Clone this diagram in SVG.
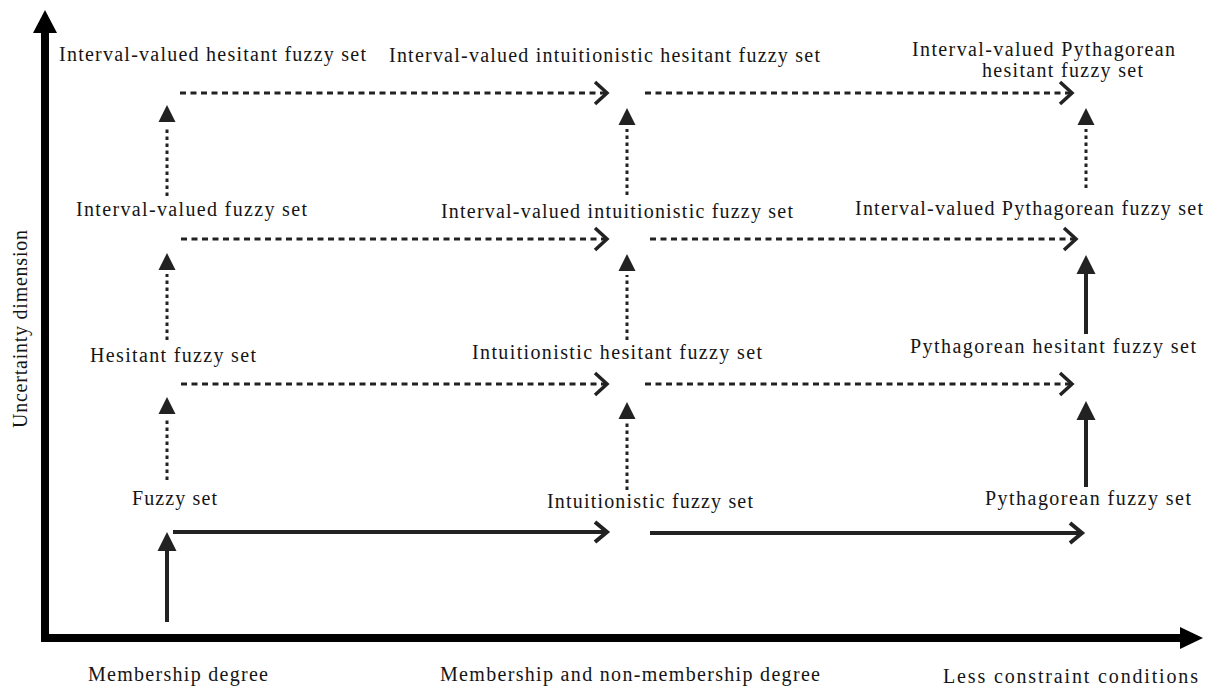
<svg xmlns="http://www.w3.org/2000/svg" width="1209" height="686" viewBox="0 0 1209 686" font-family="'Liberation Serif', 'DejaVu Serif', serif">
<style>
text{font-family:'Liberation Serif','DejaVu Serif',serif;font-size:20px;fill:#151515}
.solid{stroke:#222;stroke-width:4;fill:none}
.dash{stroke:#222;stroke-width:3;fill:none;stroke-dasharray:6 4.5}
.dot{stroke:#222;stroke-width:3;fill:none;stroke-dasharray:3.5 3.5}
.tri{fill:#222}
.chev{stroke:#222;stroke-width:3.5;fill:none;stroke-linejoin:miter}
.axis{stroke:#000;stroke-width:8;fill:none}
</style>
<defs>
<marker id="chev" markerUnits="userSpaceOnUse" viewBox="-14 -13 16 26" refX="0" refY="0" markerWidth="16" markerHeight="26" orient="auto" overflow="visible">
<path d="M-12,-11 L0,0 L-12,11" class="chev"/>
</marker>
<marker id="chevS" markerUnits="userSpaceOnUse" viewBox="-14 -13 16 26" refX="0" refY="0" markerWidth="16" markerHeight="26" orient="auto" overflow="visible">
<path d="M-12,-10 L0,0 L-12,10" stroke="#222" stroke-width="4" fill="none"/>
</marker>
<marker id="tri" markerUnits="userSpaceOnUse" viewBox="-5 -9 22 18" refX="-4" refY="0" markerWidth="22" markerHeight="18" orient="auto" overflow="visible">
<path d="M0,-8.5 L17,0 L0,8.5 z" class="tri"/>
</marker>
<marker id="triS" markerUnits="userSpaceOnUse" viewBox="-1 -10 21 20" refX="0" refY="0" markerWidth="21" markerHeight="20" orient="auto" overflow="visible">
<path d="M0,-9.5 L19,0 L0,9.5 z" class="tri"/>
</marker>
</defs>

<g id="axes">
<line class="axis" x1="45" y1="642" x2="45" y2="32"/>
<polygon points="33,33 45,10 57,33" fill="#000"/>
<line class="axis" x1="41" y1="638" x2="1181" y2="638"/>
<polygon points="1180,627 1203,638 1180,649" fill="#000"/>
<text x="0" y="0" transform="translate(27,428) rotate(-90)" textLength="198" lengthAdjust="spacing">Uncertainty dimension</text>
<text x="88" y="681" textLength="180" lengthAdjust="spacing">Membership degree</text>
<text x="440" y="681" textLength="380" lengthAdjust="spacing">Membership and non-membership degree</text>
<text x="943" y="683" textLength="255" lengthAdjust="spacing">Less constraint conditions</text>
</g>

<g id="n-fs"><text x="132" y="505" textLength="85" lengthAdjust="spacing">Fuzzy set</text></g>
<g id="n-ifs"><text x="547" y="508" textLength="206" lengthAdjust="spacing">Intuitionistic fuzzy set</text></g>
<g id="n-pfs"><text x="985" y="505" textLength="206" lengthAdjust="spacing">Pythagorean fuzzy set</text></g>

<g id="n-hfs"><text x="90" y="362" textLength="166" lengthAdjust="spacing">Hesitant fuzzy set</text></g>
<g id="n-ihfs"><text x="472" y="359" textLength="290" lengthAdjust="spacing">Intuitionistic hesitant fuzzy set</text></g>
<g id="n-phfs"><text x="910" y="353" textLength="286" lengthAdjust="spacing">Pythagorean hesitant fuzzy set</text></g>

<g id="n-ivfs"><text x="76" y="216" textLength="231" lengthAdjust="spacing">Interval-valued fuzzy set</text></g>
<g id="n-ivifs"><text x="441" y="218" textLength="352" lengthAdjust="spacing">Interval-valued intuitionistic fuzzy set</text></g>
<g id="n-ivpfs"><text x="855" y="215" textLength="348" lengthAdjust="spacing">Interval-valued Pythagorean fuzzy set</text></g>

<g id="n-ivhfs"><text x="59" y="61" textLength="307" lengthAdjust="spacing">Interval-valued hesitant fuzzy set</text></g>
<g id="n-ivihfs"><text x="389" y="62" textLength="431" lengthAdjust="spacing">Interval-valued intuitionistic hesitant fuzzy set</text></g>
<g id="n-ivphfs"><text x="912" y="56" textLength="263" lengthAdjust="spacing">Interval-valued Pythagorean</text><text x="982" y="77" textLength="161" lengthAdjust="spacing">hesitant fuzzy set</text></g>

<g id="connectors">
<line class="solid" x1="173" y1="532" x2="607" y2="532" marker-end="url(#chevS)"/>
<line class="solid" x1="650" y1="533" x2="1082" y2="533" marker-end="url(#chevS)"/>
<line class="dash" x1="181" y1="384" x2="607" y2="384" marker-end="url(#chev)"/>
<line class="dash" x1="645" y1="384" x2="1072" y2="384" marker-end="url(#chev)"/>
<line class="dash" x1="181" y1="239" x2="607" y2="239" marker-end="url(#chev)"/>
<line class="dash" x1="650" y1="239" x2="1076" y2="239" marker-end="url(#chev)"/>
<line class="dash" x1="180" y1="93" x2="607" y2="93" marker-end="url(#chev)"/>
<line class="dash" x1="645" y1="93" x2="1072" y2="93" marker-end="url(#chev)"/>
<line class="solid" x1="167" y1="622" x2="167" y2="551" marker-end="url(#triS)"/>
<line class="dot" x1="167" y1="480" x2="167" y2="418" marker-end="url(#tri)"/>
<line class="dot" x1="167" y1="340" x2="167" y2="274" marker-end="url(#tri)"/>
<line class="dot" x1="167" y1="196" x2="167" y2="126" marker-end="url(#tri)"/>
<line class="dot" x1="627" y1="490" x2="627" y2="423" marker-end="url(#tri)"/>
<line class="dot" x1="627" y1="340" x2="627" y2="275" marker-end="url(#tri)"/>
<line class="dot" x1="627" y1="195" x2="627" y2="129" marker-end="url(#tri)"/>
<line class="solid" x1="1086" y1="487" x2="1086" y2="420" marker-end="url(#triS)"/>
<line class="solid" x1="1086" y1="334" x2="1086" y2="274" marker-end="url(#triS)"/>
<line class="dot" x1="1086" y1="188" x2="1086" y2="129" marker-end="url(#tri)"/>
</g>
</svg>
